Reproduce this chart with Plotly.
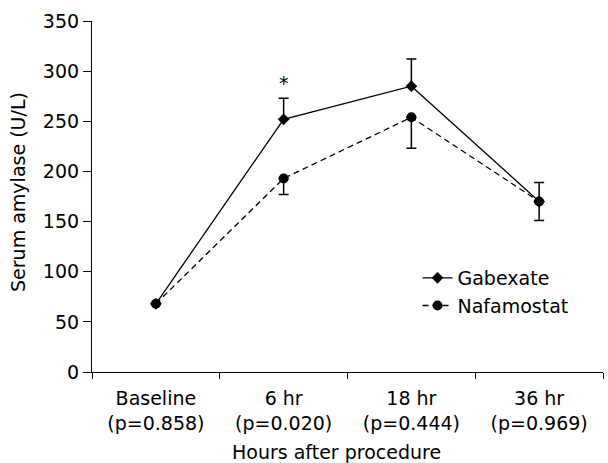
import plotly.graph_objects as go

categories = ["Baseline<br>(p=0.858)", "6 hr<br>(p=0.020)", "18 hr<br>(p=0.444)", "36 hr<br>(p=0.969)"]
gabexate = [68, 252, 285, 170]
gabexate_err_up = [0, 21, 27, 19]
nafamostat = [68, 193, 254, 170]
nafamostat_err_down = [0, 16, 31, 19]
y_ticks = [0, 50, 100, 150, 200, 250, 300, 350]

FONT = "DejaVu Sans"
FS = 19

fig = go.Figure()
fig.add_trace(go.Scatter(
    x=categories, y=gabexate, name="Gabexate", mode="lines+markers",
    line=dict(color="black", width=1.3),
    marker=dict(symbol="diamond", size=9, color="black"),
    error_y=dict(type="data", symmetric=False, array=gabexate_err_up,
                 arrayminus=[0] * 4, color="black", thickness=1.5, width=5),
))
fig.add_trace(go.Scatter(
    x=categories, y=nafamostat, name="Nafamostat", mode="lines+markers",
    line=dict(color="black", width=1.3, dash="6px,4px"),
    marker=dict(symbol="circle", size=10, color="black"),
    error_y=dict(type="data", symmetric=False, array=[0] * 4,
                 arrayminus=nafamostat_err_down, color="black", thickness=1.5, width=5),
))

fig.add_annotation(x=categories[1], y=288, text="*", showarrow=False,
                   font=dict(family=FONT, size=FS, color="black"), yanchor="middle")
fig.add_annotation(xref="paper", yref="paper", x=0.478, y=-0.228, text="Hours after procedure",
                   showarrow=False, font=dict(family=FONT, size=FS, color="black"),
                   xanchor="center", yanchor="middle")
fig.add_annotation(xref="paper", yref="paper", x=(18 - 92) / 511, y=0.513,
                   text="Serum amylase (U/L)", textangle=-90, showarrow=False,
                   font=dict(family=FONT, size=FS, color="black"),
                   xanchor="center", yanchor="middle")

fig.update_layout(
    width=608, height=463,
    margin=dict(l=92, r=5, t=21, b=91),
    paper_bgcolor="white", plot_bgcolor="white",
    font=dict(family=FONT, size=FS, color="black"),
    showlegend=True,
    legend=dict(x=0.637, y=0.228, xanchor="left", yanchor="middle",
                bgcolor="rgba(0,0,0,0)", borderwidth=0,
                font=dict(family=FONT, size=FS, color="black"),
                tracegroupgap=0),
    xaxis=dict(type="category", range=[-0.5, 3.5], showline=True, linecolor="black",
               linewidth=1.2, ticks="outside", tickson="boundaries", ticklen=6,
               tickcolor="black", showgrid=False, zeroline=False, ticklabelstandoff=9),
    yaxis=dict(range=[0, 350], tickvals=y_ticks, showline=True, linecolor="black",
               linewidth=1.2, ticks="outside", ticklen=8, tickcolor="black",
               showgrid=False, zeroline=False),
)

fig.write_html("out.html", config={"displayModeBar": False},
               post_script="document.body.style.margin='0';")
